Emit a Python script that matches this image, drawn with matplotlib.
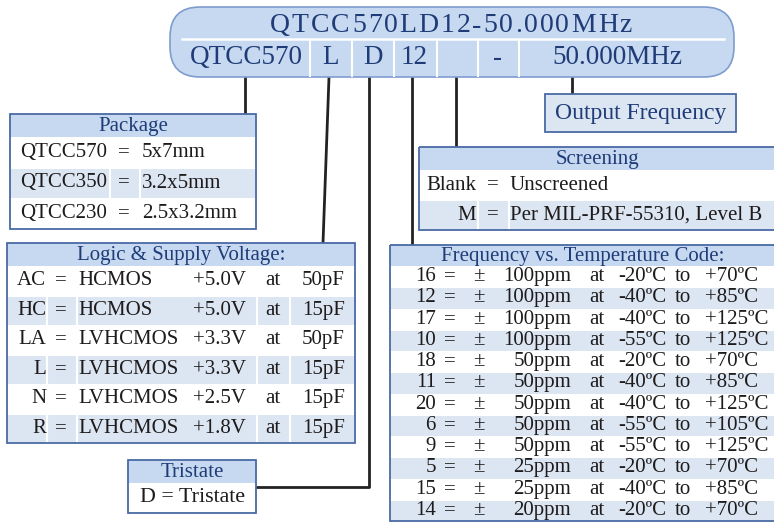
import matplotlib
matplotlib.use('Agg')
import matplotlib.pyplot as plt
from matplotlib.patches import Rectangle, FancyBboxPatch
from matplotlib.font_manager import FontProperties

plt.rcParams['font.family'] = ['Liberation Serif', 'DejaVu Serif']

# ---- data ----
part_number = 'QTCC570LD12-50.000MHz'
part_fields = ['QTCC570', 'L', 'D', '12', '', '-', '50.000MHz']

package_codes = ['QTCC570', 'QTCC350', 'QTCC230']
package_sizes = ['5x7mm', '3.2x5mm', '2.5x3.2mm']

logic_codes = ['AC', 'HC', 'LA', 'L', 'N', 'R']
logic_types = ['HCMOS', 'HCMOS', 'LVHCMOS', 'LVHCMOS', 'LVHCMOS', 'LVHCMOS']
logic_volts = ['+5.0V', '+5.0V', '+3.3V', '+3.3V', '+2.5V', '+1.8V']
logic_loads = ['50pF', '15pF', '50pF', '15pF', '15pF', '15pF']

screen_codes = ['Blank', 'M']
screen_desc = ['Unscreened', 'Per MIL-PRF-55310, Level B']

fvt_codes = ['16', '12', '17', '10', '18', '11', '20', '6', '9', '5', '15', '14']
fvt_ppm = ['100ppm', '100ppm', '100ppm', '100ppm', '50ppm', '50ppm',
           '50ppm', '50ppm', '50ppm', '25ppm', '25ppm', '20ppm']
fvt_low = ['-20ºC', '-40ºC', '-40ºC', '-55ºC', '-20ºC', '-40ºC',
           '-40ºC', '-55ºC', '-55ºC', '-20ºC', '-40ºC', '-20ºC']
fvt_high = ['+70ºC', '+85ºC', '+125ºC', '+125ºC', '+70ºC', '+85ºC',
            '+125ºC', '+105ºC', '+125ºC', '+70ºC', '+85ºC', '+70ºC']

# ---- style ----
HEAD = '#c6d9f0'
SHADE = '#dce6f2'
EDGE = '#4a6aa5'
NAVY = '#1f3c78'
INK = '#1e1b1c'
LINE = '#222222'
FS = 15

fig = plt.figure(figsize=(7.74, 5.23), dpi=100)
ax = fig.add_axes([0, 0, 1, 1])
ax.set_xlim(0, 774)
ax.set_ylim(523, 0)
ax.axis('off')


def box(x0, y0, x1, y1, head_h, title, n_rows, shaded, dividers=()):
    ax.add_patch(Rectangle((x0, y0), x1 - x0, y1 - y0, fc='white', ec='none', zorder=1))
    ax.add_patch(Rectangle((x0, y0), x1 - x0, head_h, fc=HEAD, ec='none', zorder=2))
    ax.text((x0 + x1) / 2, y0 + head_h / 2 + 1, title, color=NAVY, fontsize=FS,
            ha='center', va='center', zorder=5)
    rh = (y1 - y0 - head_h) / n_rows
    centers = []
    for i in range(n_rows):
        ry = y0 + head_h + i * rh
        centers.append(ry + rh / 2)
        if i in shaded:
            ax.add_patch(Rectangle((x0, ry + 1), x1 - x0, rh - 1, fc=SHADE, ec='none', zorder=2))
            for dx in dividers:
                ax.plot([dx, dx], [ry + 1, ry + rh], color='white', lw=1.5, zorder=3)
    ax.add_patch(Rectangle((x0, y0), x1 - x0, y1 - y0, fc='none', ec=EDGE, lw=1.3, zorder=6))
    return centers


def txt(x, y, s, ha='left', color=INK, fs=FS):
    ax.text(x, y, s, ha=ha, va='center', color=color, fontsize=fs, zorder=5)


# ---- connectors ----
lw_c = 2.0
ax.plot([245, 245], [77, 114], color=LINE, lw=lw_c, zorder=0)
ax.plot([329, 323], [77, 243], color=LINE, lw=lw_c, zorder=0)
ax.plot([369, 369, 256], [77, 487, 487], color=LINE, lw=lw_c, zorder=0)
ax.plot([412, 412], [77, 245], color=LINE, lw=lw_c, zorder=0)
ax.plot([456, 456], [77, 147], color=LINE, lw=lw_c, zorder=0)
ax.plot([572, 572], [77, 94], color=LINE, lw=lw_c, zorder=0)

# ---- part number pill ----
ax.add_patch(FancyBboxPatch((170, 7), 564, 70, boxstyle='round,pad=0,rounding_size=30',
                            fc=HEAD, ec='#7f9ccf', lw=1.2, zorder=2))
ax.plot([182, 724], [38.5, 38.5], color='white', lw=1.8, zorder=3)
for dx in [310, 352, 394, 437, 478, 519]:
    ax.plot([dx, dx], [39.5, 76], color='white', lw=1.5, zorder=3)

fp = FontProperties(family='Liberation Serif', size=20)
renderer = fig.canvas.get_renderer()
widths = [renderer.get_text_width_height_descent(c, fp, ismath=False)[0] for c in part_number]
gap = (632 - 270 - sum(widths)) / (len(part_number) - 1)
x = 270
for c, w in zip(part_number, widths):
    ax.text(x, 26, c, fontproperties=fp, color=NAVY, ha='left', va='center', zorder=5)
    x += w + gap

field_x = [246, 331, 373, 414, 458, 497, 617]
for fx, s in zip(field_x, part_fields):
    ax.text(fx, 58, s, fontsize=19.5, color=NAVY, ha='center', va='center', zorder=5)

# ---- output frequency ----
ax.add_patch(Rectangle((545, 94), 191, 38, fc=SHADE, ec=EDGE, lw=1.3, zorder=2))
txt(641, 113, 'Output Frequency', ha='center', color=NAVY, fs=17)

# ---- package ----
cy = box(10, 114, 256, 229, 23, 'Package', 3, [1], dividers=[110, 140])
for y, c, s in zip(cy, package_codes, package_sizes):
    txt(20, y, c)
    txt(124, y, '=', ha='center')
    txt(142, y, s)

# ---- logic & supply ----
cy = box(7, 243, 355, 443, 23, 'Logic & Supply Voltage:', 6, [1, 3, 5],
         dividers=[47, 77, 257, 290])
for y, c, t, v, l in zip(cy, logic_codes, logic_types, logic_volts, logic_loads):
    txt(46, y, c, ha='right')
    txt(61, y, '=', ha='center')
    txt(78, y, t)
    txt(193, y, v)
    txt(273, y, 'at', ha='center')
    txt(345, y, l, ha='right')

# ---- tristate ----
cy = box(128, 460, 256, 513, 23, 'Tristate', 1, [])
txt(140, cy[0] - 1, 'D = Tristate', fs=15.8)

# ---- screening ----
cy = box(419, 147, 776, 230, 23, 'Screening', 2, [1], dividers=[478, 509])
for y, c, s in zip(cy, screen_codes, screen_desc):
    txt(476, y, c, ha='right')
    txt(493, y, '=', ha='center')
    txt(510, y, s)

# ---- frequency vs temperature ----
cy = box(390, 245, 776, 521, 21, 'Frequency vs. Temperature Code:', 12,
         [1, 3, 5, 7, 9, 11])
for y, c, p, lo, hi in zip(cy, fvt_codes, fvt_ppm, fvt_low, fvt_high):
    txt(436, y, c, ha='right')
    txt(450, y, '=', ha='center')
    txt(479, y, '±', ha='center')
    txt(571, y, p, ha='right')
    txt(597, y, 'at', ha='center')
    txt(618, y, lo)
    txt(683, y, 'to', ha='center')
    txt(705, y, hi)

plt.savefig('out.png', dpi=100)
